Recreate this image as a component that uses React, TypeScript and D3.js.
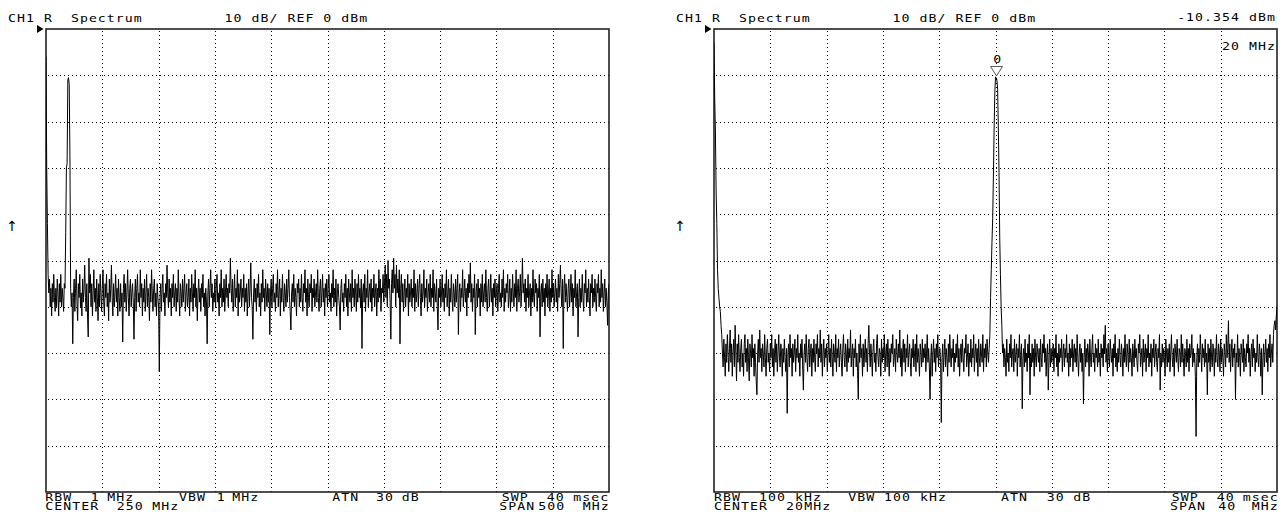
import React from "react";
import * as d3 from "d3";

// ---------- data ----------
// Left trace: 0 .. 500 MHz, 801 sweep points (dBm)
const LEFT_TRACE_DBM = [
  -6, -30, -42, -53, -57, -54, -60, -56, -62, -55, -59, -53, -58, -61, -56, -60, -54, -57, -62, -55,
  -59, -53, -60, -56, -58, -61, -55, -56, -44, -30, -29, -11, -10.5, -12, -27.6, -56, -60, -57, -68, -58,
  -54, -61, -56, -52, -59, -63, -55, -58, -53, -60, -57, -62, -54, -59, -56, -51, -58, -61, -55, -62,
  -66.5, -49.5, -57, -53, -60, -55, -62, -57, -52, -59, -56, -61, -54, -58, -63, -55, -60, -53, -57, -61,
  -56, -52, -59, -62, -55, -58, -53, -60, -57, -63, -54, -59, -56, -51, -58, -62, -55, -60, -57, -53,
  -59, -56, -62, -54, -58, -61, -55, -60, -57, -67.6, -56, -53, -59, -55, -61, -57, -52, -58, -62, -56,
  -54, -60, -57, -55, -59, -67, -58, -54, -61, -56, -53, -59, -57, -60, -52, -58, -55, -62, -56, -59,
  -54, -61, -57, -53, -60, -56, -58, -63, -55, -59, -52, -57, -61, -56, -54, -60, -57, -62, -55, -58,
  -60, -74, -58, -55, -61, -56, -53, -59, -57, -62, -55, -58, -51, -57, -60, -54, -59, -56, -62, -55,
  -58, -53, -60, -57, -55, -61, -56, -59, -52, -58, -62, -55, -57, -60, -54, -59, -56, -53, -61, -57,
  -55, -60, -58, -54, -62, -56, -59, -53, -57, -61, -55, -58, -52, -60, -56, -63, -57, -54, -59, -56,
  -61, -55, -58, -53, -60, -57, -62, -56, -59, -68, -57, -54, -60, -56, -52, -58, -55, -61, -57, -59,
  -54, -60, -56, -53, -59, -57, -62, -55, -58, -52, -60, -56, -59, -54, -61, -57, -53, -58, -56, -60,
  -55, -57, -49.5, -56, -59, -54, -61, -57, -53, -60, -56, -58, -52, -62, -55, -59, -57, -54, -60, -56,
  -58, -53, -61, -56, -59, -55, -62, -57, -54, -60, -56, -50.5, -58, -60, -67, -57, -54, -59, -56, -61,
  -55, -58, -53, -60, -57, -62, -55, -59, -52, -58, -56, -61, -54, -57, -60, -55, -59, -56, -66, -57,
  -54, -60, -56, -53, -59, -57, -61, -55, -58, -52, -60, -57, -54, -62, -56, -59, -53, -58, -61, -55,
  -57, -60, -54, -59, -56, -52, -58, -61, -65, -57, -55, -59, -53, -60, -56, -58, -62, -55, -57, -54,
  -60, -56, -59, -53, -58, -61, -55, -57, -52, -59, -56, -62, -54, -58, -60, -55, -57, -53, -61, -56,
  -58, -54, -60, -57, -55, -59, -52, -58, -61, -56, -54, -60, -57, -53, -59, -56, -62, -55, -58, -54,
  -60, -56, -53, -59, -57, -61, -55, -58, -52, -60, -56, -59, -54, -62, -57, -55, -58, -60, -65, -56,
  -54, -59, -57, -61, -55, -58, -53, -60, -56, -62, -54, -57, -59, -55, -61, -52, -58, -56, -60, -54,
  -57, -61, -55, -59, -53, -58, -56, -60, -54, -69, -57, -55, -59, -53, -61, -56, -58, -52, -60, -57,
  -55, -59, -54, -61, -56, -58, -53, -60, -57, -55, -62, -56, -59, -52, -58, -54, -61, -56, -57, -53,
  -59, -55, -51, -58, -53, -60, -50, -56, -54, -59, -67, -55, -52, -57, -49.5, -56, -53, -60, -51, -57,
  -54, -58, -52, -68, -56, -53, -59, -55, -61, -57, -54, -60, -56, -58, -53, -62, -55, -59, -57, -54,
  -60, -56, -58, -52, -61, -55, -59, -57, -54, -60, -56, -53, -58, -62, -55, -59, -57, -52, -60, -56,
  -58, -54, -61, -57, -55, -59, -53, -60, -56, -58, -52, -61, -55, -57, -59, -54, -60, -65, -56, -58,
  -54, -60, -57, -53, -59, -56, -61, -55, -58, -52, -60, -57, -54, -62, -56, -59, -53, -58, -61, -55,
  -57, -60, -54, -59, -56, -53, -66, -57, -55, -61, -56, -58, -52, -60, -57, -54, -59, -56, -62, -55,
  -58, -53, -57, -50.5, -59, -55, -61, -56, -58, -53, -66, -57, -55, -60, -54, -58, -56, -62, -55, -59,
  -53, -60, -57, -55, -59, -52, -58, -61, -56, -54, -60, -57, -53, -59, -56, -62, -55, -58, -54, -60,
  -57, -55, -61, -56, -53, -59, -57, -60, -54, -58, -52, -61, -56, -59, -55, -57, -53, -60, -58, -54,
  -61, -56, -59, -53, -57, -60, -55, -58, -52, -61, -56, -54, -59, -57, -53, -60, -56, -49.5, -57, -55,
  -59, -54, -61, -56, -58, -53, -60, -57, -55, -62, -56, -59, -52, -58, -60, -54, -57, -55, -61, -56,
  -58, -53, -66.5, -57, -55, -60, -54, -59, -56, -62, -55, -58, -53, -60, -57, -54, -61, -56, -59, -52,
  -58, -55, -60, -57, -54, -59, -56, -61, -53, -58, -55, -51, -57, -60, -54, -69, -56, -53, -59, -55,
  -58, -61, -56, -54, -60, -57, -53, -59, -55, -62, -56, -58, -52, -60, -57, -55, -66.5, -58, -54, -60,
  -56, -59, -53, -58, -61, -55, -57, -52, -60, -56, -59, -54, -58, -62, -55, -57, -53, -60, -56, -59,
  -54, -58, -61, -55, -57, -53, -60, -56, -59, -52, -58, -55, -61, -57, -54, -60, -56, -59, -64, -57,
  -55,
];

// Right trace: 0 .. 40 MHz, 801 sweep points (dBm)
const RIGHT_TRACE_DBM = [
  -3, -15, -22, -35, -42, -52, -56, -58, -60, -61, -64, -66, -70, -73, -67, -71, -75, -68, -72, -66,
  -70, -74, -69, -65, -72, -68, -75, -70, -67, -73, -64, -70, -76, -68, -72, -66, -71, -74, -69, -67,
  -73, -70, -75, -68, -66, -72, -69, -74, -67, -71, -76, -68, -70, -73, -66, -71, -69, -75, -68, -72,
  -76, -79, -70, -67, -72, -65, -71, -69, -74, -68, -70, -73, -66, -71, -75, -69, -67, -72, -70, -74,
  -68, -71, -66, -73, -69, -75, -70, -67, -72, -68, -74, -70, -66, -71, -73, -68, -70, -75, -69, -72,
  -67, -71, -74, -69, -83, -70, -68, -73, -66, -71, -69, -75, -68, -72, -70, -67, -74, -69, -71, -66,
  -72, -70, -75, -68, -71, -67, -73, -78, -70, -68, -72, -66, -71, -74, -69, -67, -73, -70, -68, -75,
  -69, -72, -67, -71, -74, -68, -70, -66, -73, -69, -71, -65, -72, -68, -75, -70, -67, -73, -69, -71,
  -68, -74, -70, -66, -72, -69, -73, -67, -71, -75, -68, -70, -72, -66, -74, -69, -71, -67, -73, -70,
  -68, -72, -75, -69, -66, -71, -73, -68, -70, -74, -67, -72, -69, -71, -65, -73, -70, -68, -75, -69,
  -71, -67, -73, -70, -74, -80, -68, -72, -66, -71, -69, -75, -68, -73, -70, -67, -72, -69, -74, -68,
  -64, -70, -73, -68, -71, -75, -69, -67, -72, -70, -74, -68, -66, -71, -73, -69, -70, -75, -67, -72,
  -69, -71, -66, -74, -70, -68, -73, -67, -71, -75, -69, -72, -68, -70, -66, -73, -71, -69, -74, -67,
  -70, -72, -68, -71, -65, -73, -69, -75, -70, -67, -72, -68, -74, -69, -71, -66, -73, -70, -68, -72,
  -75, -69, -71, -67, -73, -70, -68, -74, -66, -72, -69, -71, -75, -68, -70, -73, -67, -72, -69, -71,
  -68, -74, -70, -66, -72, -69, -73, -80, -71, -68, -75, -70, -67, -72, -69, -74, -68, -71, -66, -73,
  -70, -69, -72, -85, -71, -68, -74, -70, -67, -73, -69, -71, -75, -68, -72, -66, -70, -73, -69, -71,
  -67, -74, -70, -72, -68, -71, -66, -73, -69, -75, -70, -68, -72, -67, -71, -74, -69, -70, -66, -73,
  -71, -68, -75, -70, -72, -67, -73, -69, -71, -66, -74, -70, -68, -72, -69, -75, -67, -71, -73, -68,
  -70, -72, -66, -74, -69, -71, -68, -73, -67, -70, -72, -69, -66, -58, -52, -46, -41, -32, -22, -14,
  -10.354, -10.5, -11, -13, -21, -31, -45, -53, -60, -64, -70, -68, -73, -69, -71, -75, -67, -72, -70, -74,
  -68, -71, -66, -73, -70, -69, -74, -67, -72, -70, -68, -75, -69, -71, -66, -73, -70, -68, -82, -71,
  -69, -73, -67, -72, -70, -74, -68, -71, -66, -79, -70, -73, -68, -72, -69, -75, -67, -71, -73, -68,
  -70, -72, -69, -74, -67, -71, -73, -68, -70, -66, -72, -69, -75, -70, -68, -78, -71, -67, -73, -69,
  -72, -70, -68, -74, -69, -71, -66, -73, -70, -75, -68, -72, -69, -71, -67, -74, -70, -68, -73, -69,
  -71, -66, -72, -70, -75, -68, -73, -69, -71, -67, -74, -70, -68, -72, -69, -73, -66, -71, -75, -70,
  -68, -72, -69, -74, -70, -81, -71, -67, -73, -69, -72, -68, -70, -75, -67, -71, -73, -69, -66, -72,
  -70, -74, -68, -71, -69, -73, -67, -72, -70, -75, -68, -71, -69, -73, -66, -70, -64, -72, -69, -74,
  -68, -71, -73, -67, -70, -72, -69, -75, -68, -71, -66, -73, -70, -74, -69, -72, -67, -71, -73, -68,
  -70, -75, -69, -72, -66, -71, -73, -68, -70, -74, -67, -72, -69, -71, -75, -68, -70, -73, -67, -71,
  -69, -72, -74, -68, -70, -66, -73, -71, -69, -75, -67, -72, -70, -68, -74, -69, -71, -66, -73, -70,
  -72, -68, -75, -69, -71, -67, -73, -70, -68, -72, -74, -69, -71, -66, -78, -70, -73, -68, -72, -69,
  -71, -75, -67, -70, -73, -69, -72, -68, -74, -70, -66, -71, -73, -69, -75, -68, -70, -72, -67, -71,
  -74, -69, -70, -73, -66, -72, -68, -71, -75, -69, -70, -73, -67, -72, -69, -74, -68, -71, -70, -66,
  -73, -69, -72, -70, -75, -88, -71, -68, -73, -69, -72, -66, -70, -74, -68, -71, -69, -73, -67, -72,
  -70, -79, -68, -72, -69, -74, -67, -71, -73, -68, -70, -75, -69, -72, -66, -71, -73, -68, -70, -74,
  -67, -72, -69, -71, -75, -68, -70, -73, -66, -71, -69, -63, -72, -68, -74, -70, -67, -73, -69, -71,
  -68, -80, -70, -72, -66, -73, -69, -71, -75, -68, -70, -72, -67, -74, -69, -71, -73, -68, -70, -66,
  -72, -69, -75, -70, -68, -73, -67, -71, -69, -74, -70, -72, -66, -71, -73, -68, -70, -75, -69, -79,
  -71, -68, -73, -70, -67, -72, -69, -74, -68, -71, -66, -73, -70, -68, -72, -66, -64, -63, -65, -62,
  -60,
];

const LEFT_SPAN_MHZ = [0, 500];
const RIGHT_SPAN_MHZ = [0, 40];
const REF_LEVEL_DBM = 0;
const DB_PER_DIV = 10;
const DIVISIONS = 10;
const MARKER_FREQ_MHZ = 20;
const MARKER_LABEL = "0";
const MARKER_READOUT = "-10.354 dBm";
const MARKER_FREQ_LABEL = "20 MHz";

const HEADER = ["CH1 R  Spectrum", "10 dB/ REF 0 dBm"];
const LEFT_FOOTER = {
  rbw: ["RBW", "1", "MHz"],
  vbw: ["VBW", "1", "MHz"],
  atn: ["ATN", "30", "dB"],
  swp: ["SWP", "40", "msec"],
  center: ["CENTER", "250", "MHz"],
  span: ["SPAN", "500", "MHz"],
};
const RIGHT_FOOTER = {
  rbw: ["RBW", "100", "kHz"],
  vbw: ["VBW", "100", "kHz"],
  atn: ["ATN", "30", "dB"],
  swp: ["SWP", "40", "msec"],
  center: ["CENTER", "20", "MHz"],
  span: ["SPAN", "40", "MHz"],
};

// ---------- layout ----------
const W = 1282;
const H = 521;
const PLOT_TOP = 29;
const PLOT_H = 463;
const PLOT_W = 563;
const FONT = "'DejaVu Sans Mono', 'Liberation Mono', monospace";
const ROW1 = 500.5;
const ROW2 = 510;

const T = ({ x, y, children, anchor = "start" }: any) => (
  <text
    transform={`translate(${x},${y}) scale(1.2,1)`}
    fontFamily={FONT}
    fontSize={11}
    letterSpacing={0.88}
    textAnchor={anchor}
    fill="#000"
    style={{ whiteSpace: "pre" }}
  >
    {children}
  </text>
);

function Panel({ x0, data, span, footer, marker, clipId }: any) {
  const x = d3.scaleLinear().domain(span).range([x0, x0 + PLOT_W]);
  const y = d3
    .scaleLinear()
    .domain([REF_LEVEL_DBM, REF_LEVEL_DBM - DB_PER_DIV * DIVISIONS])
    .range([PLOT_TOP, PLOT_TOP + PLOT_H]);
  const n = data.length;
  const freq = (i: number) => span[0] + ((span[1] - span[0]) * i) / (n - 1);
  const line = d3
    .line<number>()
    .x((_, i) => x(freq(i)))
    .y((d) => y(d));

  const xTicks = d3.range(1, DIVISIONS).map((i) => span[0] + ((span[1] - span[0]) * i) / DIVISIONS);
  const yTicks = d3.range(1, DIVISIONS).map((i) => REF_LEVEL_DBM - DB_PER_DIV * i);
  const bottom = PLOT_TOP + PLOT_H;

  let mk: any = null;
  if (marker) {
    // peak search around the marker frequency
    const c = Math.round(((MARKER_FREQ_MHZ - span[0]) / (span[1] - span[0])) * (n - 1));
    let idx = c;
    for (let i = c - 6; i <= c + 6; i++) if (data[i] > data[idx]) idx = i;
    const mx = x(freq(idx)) + 1;
    const my = y(data[idx]) - 1;
    mk = (
      <g>
        <path
          d={`M${mx - 6},${my - 9.5}L${mx + 6},${my - 9.5}L${mx},${my}Z`}
          fill="#fff"
          stroke="#555"
          strokeWidth={1}
        />
        <T x={mx - 3.3} y={my - 12.5}>{MARKER_LABEL}</T>
      </g>
    );
  }

  return (
    <g>
      <defs>
        <clipPath id={clipId}>
          <rect x={x0} y={PLOT_TOP} width={PLOT_W} height={PLOT_H} />
        </clipPath>
      </defs>
      <g stroke="#000" strokeWidth={1} strokeDasharray="1,3" shapeRendering="crispEdges">
        {xTicks.map((t, i) => (
          <line key={"v" + i} x1={Math.round(x(t)) + 0.5} x2={Math.round(x(t)) + 0.5} y1={PLOT_TOP + 2} y2={bottom} />
        ))}
        {yTicks.map((t, i) => (
          <line key={"h" + i} x1={x0 + 2} x2={x0 + PLOT_W} y1={Math.round(y(t)) + 0.5} y2={Math.round(y(t)) + 0.5} />
        ))}
      </g>
      <rect x={x0} y={PLOT_TOP} width={PLOT_W} height={PLOT_H} fill="none" stroke="#222" strokeWidth={1.6} />
      <path d={`M${x0 - 9},${PLOT_TOP - 4}L${x0 - 9},${PLOT_TOP + 4}L${x0 - 2.5},${PLOT_TOP}Z`} fill="#000" />
      <path d={line(data) as string} fill="none" stroke="#000" strokeWidth={1} clipPath={`url(#${clipId})`} />
      {mk}
      <text x={x0 - 34} y={231} fontFamily="'DejaVu Sans', sans-serif" fontSize={14} textAnchor="middle" fill="#000">
        ↑
      </text>
      <T x={x0 - 38} y={21.5}>{HEADER[0]}</T>
      <T x={x0 + 178.5} y={21.5}>{HEADER[1]}</T>
      {footer}
    </g>
  );
}

export default function App() {
  const leftFooter = (
    <g>
      <T x={45.3} y={ROW1}>{LEFT_FOOTER.rbw[0]}</T>
      <T x={90.7} y={ROW1}>{LEFT_FOOTER.rbw[1]}</T>
      <T x={107.3} y={ROW1}>{LEFT_FOOTER.rbw[2]}</T>
      <T x={179} y={ROW1}>{LEFT_FOOTER.vbw[0]}</T>
      <T x={216.7} y={ROW1}>{LEFT_FOOTER.vbw[1]}</T>
      <T x={232.3} y={ROW1}>{LEFT_FOOTER.vbw[2]}</T>
      <T x={332.3} y={ROW1}>{LEFT_FOOTER.atn[0]}</T>
      <T x={376} y={ROW1}>{LEFT_FOOTER.atn[1]}</T>
      <T x={401.7} y={ROW1}>{LEFT_FOOTER.atn[2]}</T>
      <T x={501.7} y={ROW1}>{LEFT_FOOTER.swp[0]}</T>
      <T x={546.7} y={ROW1}>{LEFT_FOOTER.swp[1]}</T>
      <T x={573.3} y={ROW1}>{LEFT_FOOTER.swp[2]}</T>
      <T x={45.3} y={ROW2}>{LEFT_FOOTER.center[0]}</T>
      <T x={116.7} y={ROW2}>{LEFT_FOOTER.center[1]}</T>
      <T x={152.3} y={ROW2}>{LEFT_FOOTER.center[2]}</T>
      <T x={499.3} y={ROW2}>{LEFT_FOOTER.span[0]}</T>
      <T x={538.3} y={ROW2}>{LEFT_FOOTER.span[1]}</T>
      <T x={582.7} y={ROW2}>{LEFT_FOOTER.span[2]}</T>
    </g>
  );
  const rightFooter = (
    <g>
      <T x={714} y={ROW1}>{RIGHT_FOOTER.rbw[0]}</T>
      <T x={759} y={ROW1}>{RIGHT_FOOTER.rbw[1]}</T>
      <T x={795} y={ROW1}>{RIGHT_FOOTER.rbw[2]}</T>
      <T x={848.3} y={ROW1}>{RIGHT_FOOTER.vbw[0]}</T>
      <T x={884} y={ROW1}>{RIGHT_FOOTER.vbw[1]}</T>
      <T x={920} y={ROW1}>{RIGHT_FOOTER.vbw[2]}</T>
      <T x={1001} y={ROW1}>{RIGHT_FOOTER.atn[0]}</T>
      <T x={1046.7} y={ROW1}>{RIGHT_FOOTER.atn[1]}</T>
      <T x={1073.3} y={ROW1}>{RIGHT_FOOTER.atn[2]}</T>
      <T x={1171.7} y={ROW1}>{RIGHT_FOOTER.swp[0]}</T>
      <T x={1216.7} y={ROW1}>{RIGHT_FOOTER.swp[1]}</T>
      <T x={1242.7} y={ROW1}>{RIGHT_FOOTER.swp[2]}</T>
      <T x={714} y={ROW2}>{RIGHT_FOOTER.center[0]}</T>
      <T x={786} y={ROW2}>{RIGHT_FOOTER.center[1]}</T>
      <T x={804.3} y={ROW2}>{RIGHT_FOOTER.center[2]}</T>
      <T x={1170} y={ROW2}>{RIGHT_FOOTER.span[0]}</T>
      <T x={1218.3} y={ROW2}>{RIGHT_FOOTER.span[1]}</T>
      <T x={1251.7} y={ROW2}>{RIGHT_FOOTER.span[2]}</T>
      <T x={1276} y={21} anchor="end">{MARKER_READOUT}</T>
      <T x={1222} y={50}>{MARKER_FREQ_LABEL}</T>
    </g>
  );
  return (
    <svg width={W} height={H} style={{ position: "absolute", left: 0, top: 0, background: "#fff" }}>
      <rect x={0} y={0} width={W} height={H} fill="#fff" />
      <Panel x0={46} data={LEFT_TRACE_DBM} span={LEFT_SPAN_MHZ} footer={leftFooter} marker={false} clipId="clipL" />
      <Panel x0={714} data={RIGHT_TRACE_DBM} span={RIGHT_SPAN_MHZ} footer={rightFooter} marker={true} clipId="clipR" />
    </svg>
  );
}
